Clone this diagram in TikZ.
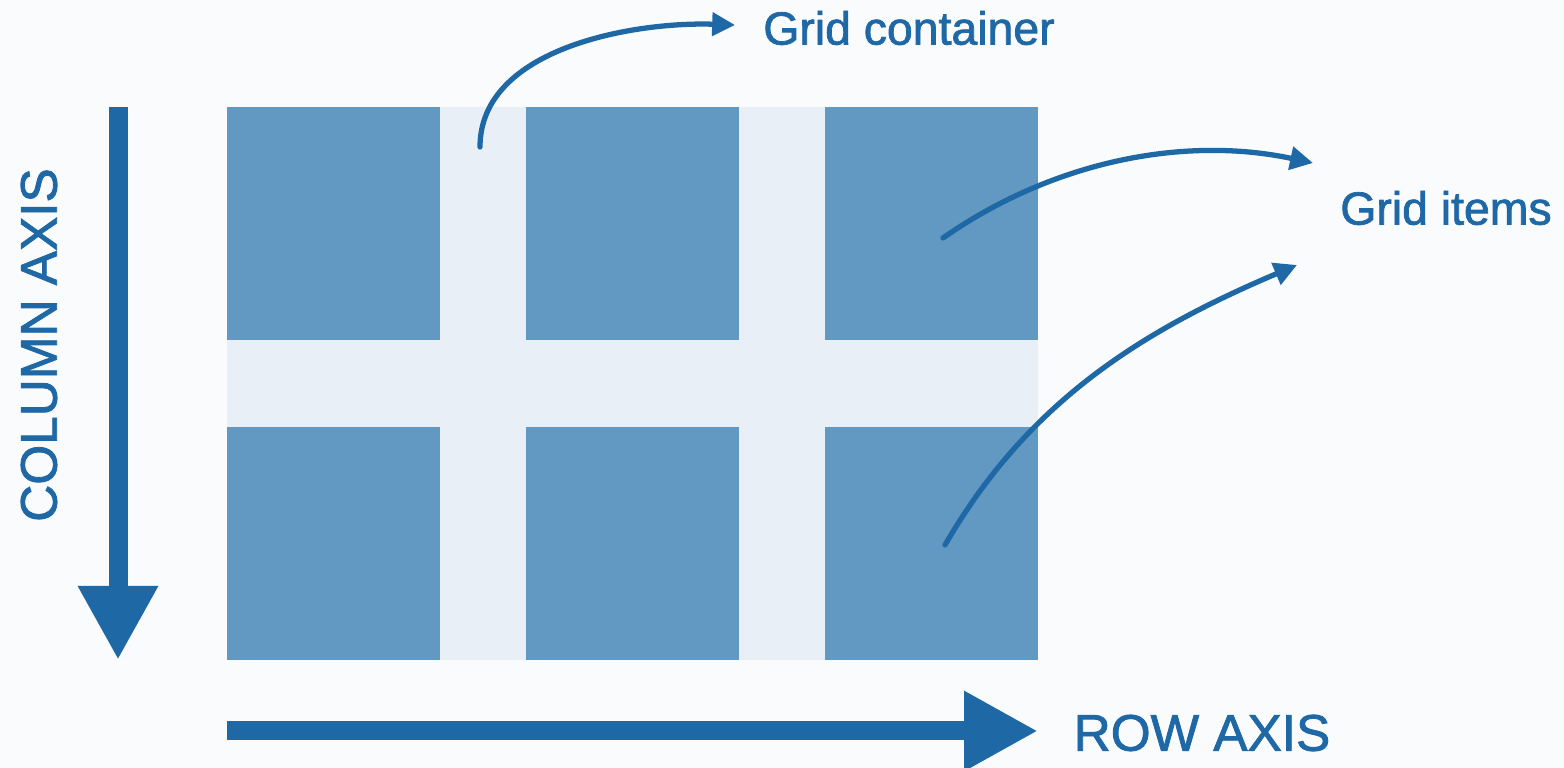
\documentclass[tikz,border=0pt]{standalone}
\usepackage{fontspec}
\setmainfont{Liberation Sans}
\newfontfamily\lblfont[FakeBold=1.6]{Liberation Sans}
\usetikzlibrary{arrows.meta}
\definecolor{axisblue}{RGB}{31,104,166}
\definecolor{cellblue}{RGB}{98,153,195}
\definecolor{gapblue}{RGB}{232,239,246}
\definecolor{pagebg}{RGB}{249,251,253}
\begin{document}
\begin{tikzpicture}[
  cell/.style={fill=cellblue, inner sep=0pt, minimum width=2.13cm, minimum height=2.33cm},
  lbl/.style={text=axisblue, inner sep=0pt, font=\lblfont\fontsize{13.2}{15}\selectfont},
  axlbl/.style={text=axisblue, inner sep=0pt, font=\lblfont\fontsize{14.6}{17}\selectfont},
  axarrow/.style={draw=axisblue, line width=0.19cm, -{Triangle[length=0.74cm, width=0.75cm]}},
  pointer/.style={draw=axisblue, line width=1.5pt, line cap=round, -{Triangle[length=6.5pt, width=6.5pt, fill=axisblue]}}]
  \fill[pagebg] (0,0) rectangle (15.64,7.68);
  \useasboundingbox (0,0) rectangle (15.64,7.68);

  % container and items
  \node[fill=gapblue, inner sep=0pt, minimum width=8.11cm, minimum height=5.53cm] (grid) at (6.325,3.845) {};
  \node[cell] (c11) at (3.335,5.445) {};
  \node[cell] (c12) at (6.325,5.445) {};
  \node[cell] (c13) at (9.315,5.445) {};
  \node[cell] (c21) at (3.335,2.245) {};
  \node[cell] (c22) at (6.325,2.245) {};
  \node[cell] (c23) at (9.315,2.245) {};

  % axes
  \coordinate (colstart) at (1.18,6.61);
  \coordinate (colend) at (1.18,1.08);
  \coordinate (rowstart) at (2.27,0.37);
  \coordinate (rowend) at (10.38,0.37);
  \draw[axarrow] (colstart) -- (colend);
  \draw[axarrow] (rowstart) -- (rowend);
  \node[axlbl, rotate=90] (collbl) at (0.39,4.23) {COLUMN AXIS};
  \node[axlbl] (rowlbl) at (12.02,0.35) {ROW AXIS};

  % labels
  \node[lbl] (gc) at (9.09,7.40) {Grid container};
  \node[lbl] (gi) at (14.46,5.60) {Grid items};

  \coordinate (gcfrom) at (4.80,6.21);
  \coordinate (gcto) at (7.35,7.43);
  \coordinate (gifrom1) at (9.43,5.30);
  \coordinate (gito1) at (13.13,6.05);
  \coordinate (gifrom2) at (9.45,2.23);
  \coordinate (gito2) at (12.97,5.03);
  \draw[pointer] (gcfrom) to[out=90, in=178, looseness=0.9] (gcto);
  \draw[pointer] (gifrom1) to[out=35, in=168, looseness=0.9] (gito1);
  \draw[pointer] (gifrom2) to[out=60, in=203, looseness=0.95] (gito2);
\end{tikzpicture}
\end{document}
